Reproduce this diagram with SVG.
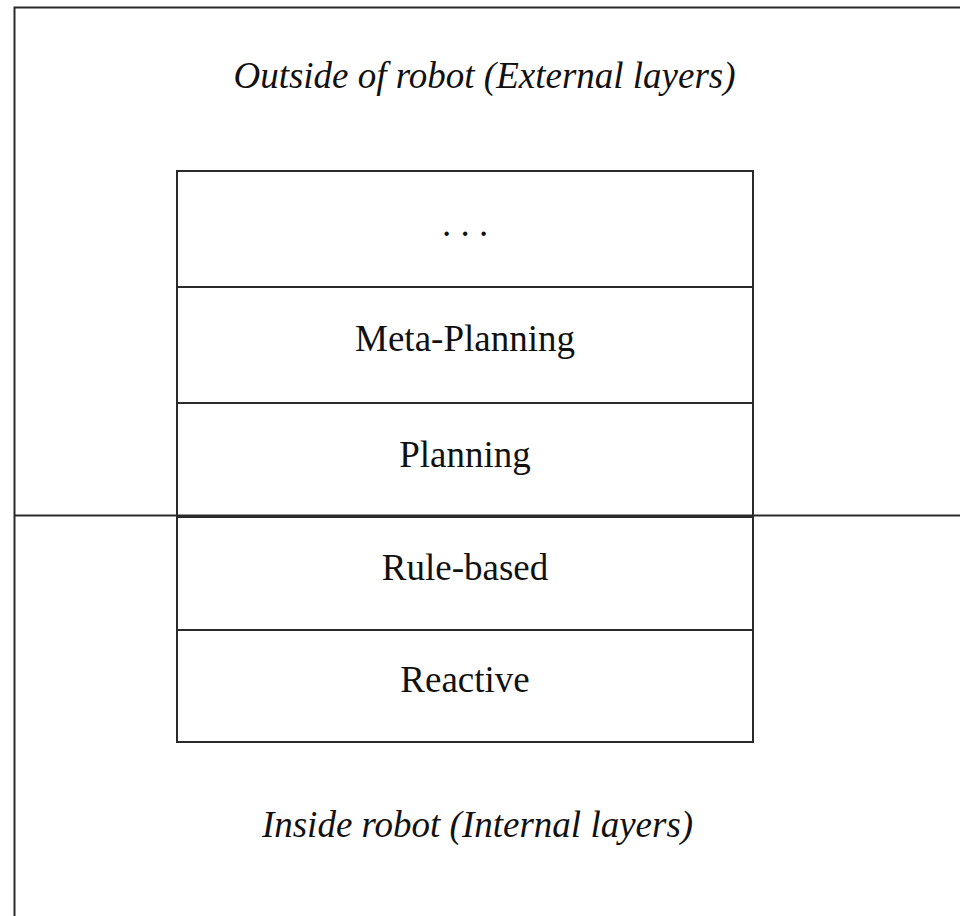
<svg xmlns="http://www.w3.org/2000/svg" width="960" height="916" viewBox="0 0 960 916">
  <style>
    .frame { fill: none; stroke: #2a2a2a; stroke-width: 2; }
    .layer { fill: #ffffff; stroke: #2a2a2a; stroke-width: 2; }
    .label { font-family: "Liberation Serif", "Times New Roman", serif; font-size: 37px; fill: #111; text-anchor: middle; }
    .region { font-family: "Liberation Serif", "Times New Roman", serif; font-size: 37px; font-style: italic; fill: #111; text-anchor: middle; }
  </style>
  <rect width="960" height="916" fill="#ffffff"/>

  <!-- outer boundary: the robot, split into external (top) and internal (bottom) halves -->
  <g id="boundary">
    <rect class="frame" x="14.5" y="7.5" width="960" height="930"/>
    <line class="frame" x1="14.5" y1="515.5" x2="960" y2="515.5"/>
    <text class="region" x="484.5" y="88">Outside of robot (External layers)</text>
    <text class="region" x="477.5" y="837">Inside robot (Internal layers)</text>
  </g>

  <!-- stack of control layers -->
  <g id="layer-more">
    <rect class="layer" x="177" y="171" width="576" height="116"/>
    <text class="label" x="465" y="236">. . .</text>
  </g>
  <g id="layer-meta-planning">
    <rect class="layer" x="177" y="287" width="576" height="116"/>
    <text class="label" x="465" y="351">Meta-Planning</text>
  </g>
  <g id="layer-planning">
    <rect class="layer" x="177" y="403" width="576" height="114"/>
    <text class="label" x="465" y="467">Planning</text>
  </g>
  <g id="layer-rule-based">
    <rect class="layer" x="177" y="517" width="576" height="113"/>
    <text class="label" x="465" y="580">Rule-based</text>
  </g>
  <g id="layer-reactive">
    <rect class="layer" x="177" y="630" width="576" height="112"/>
    <text class="label" x="465" y="692">Reactive</text>
  </g>

  <!-- the boundary line passes behind the stack; redraw its crossing edge -->
  <g id="connectors">
    <line class="frame" x1="177" y1="515.5" x2="753" y2="515.5"/>
  </g>
</svg>
